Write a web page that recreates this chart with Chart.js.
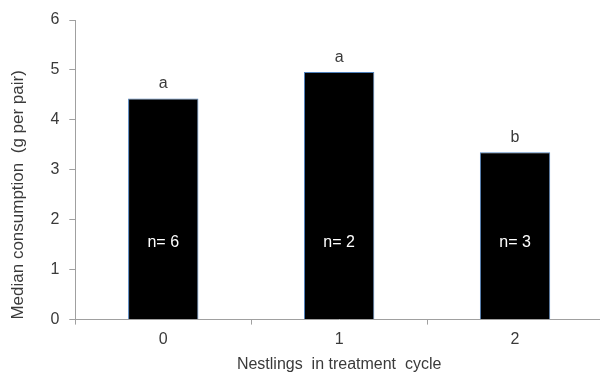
<!DOCTYPE html>
<html>
<head>
<meta charset="utf-8">
<script src="https://cdn.jsdelivr.net/npm/chart.js@4"></script>
<style>
  html, body { margin: 0; padding: 0; background: #fff; overflow: hidden; }
  #caja { width: 603px; height: 374px; }
</style>
</head>
<body>
<div id="caja"><canvas id="grafico"></canvas></div>
<script>
// datos
const categorias = ['0', '1', '2'];
const medianas = [4.43, 4.96, 3.35];
const letras = ['a', 'a', 'b'];
const tamanos = [6, 2, 3];
const ticksY = [0, 1, 2, 3, 4, 5, 6];

const fuente = "'Liberation Sans', Arial, sans-serif";
const gris = '#a0a0a0';
const texto = '#3a3a3a';

// letras encima y n= dentro de cada barra
const etiquetas = {
    id: 'etiquetas',
    afterDatasetsDraw(chart) {
        const ctx = chart.ctx;
        const barras = chart.getDatasetMeta(0).data;
        const y = chart.scales.y;
        ctx.save();
        ctx.font = '16px ' + fuente;
        ctx.textAlign = 'center';
        barras.forEach((barra, i) => {
            ctx.fillStyle = texto;
            ctx.textBaseline = 'alphabetic';
            ctx.fillText(letras[i], barra.x, barra.y - 10);
            ctx.fillStyle = '#fff';
            ctx.textBaseline = 'middle';
            ctx.fillText('n= ' + tamanos[i], barra.x, y.getPixelForValue(1.55));
        });
        ctx.restore();
    }
};

new Chart(document.getElementById('grafico'), {
    type: 'bar',
    data: {
        labels: categorias,
        datasets: [{
            data: medianas,
            backgroundColor: '#000',
            borderColor: '#4f81bd',
            borderWidth: 1,
            barPercentage: 0.8,
            categoryPercentage: 0.5
        }]
    },
    options: {
        responsive: true,
        maintainAspectRatio: false,
        animation: false,
        layout: { padding: { top: 20, right: 0, left: 8, bottom: 0 } },
        plugins: {
            legend: { display: false },
            tooltip: { enabled: false }
        },
        scales: {
            x: {
                grid: { drawOnChartArea: false, color: gris, tickLength: 5 },
                border: { color: gris },
                ticks: { color: texto, font: { family: fuente, size: 16 }, padding: 5 },
                title: {
                    display: true,
                    text: 'Nestlings  in treatment  cycle',
                    color: texto,
                    font: { family: fuente, size: 16 },
                    padding: { top: 1, bottom: 0 }
                }
            },
            y: {
                min: 0,
                max: 6,
                afterBuildTicks(scale) {
                    scale.ticks = ticksY.map(v => ({ value: v }));
                },
                grid: { drawOnChartArea: false, color: gris, tickLength: 6 },
                border: { color: gris },
                ticks: { color: texto, font: { family: fuente, size: 16 }, padding: 10 },
                title: {
                    display: true,
                    text: 'Median consumption  (g per pair)',
                    align: 'start',
                    color: texto,
                    font: { family: fuente, size: 17 },
                    padding: { top: 0, bottom: 12 }
                }
            }
        }
    },
    plugins: [etiquetas]
});
</script>
</body>
</html>
